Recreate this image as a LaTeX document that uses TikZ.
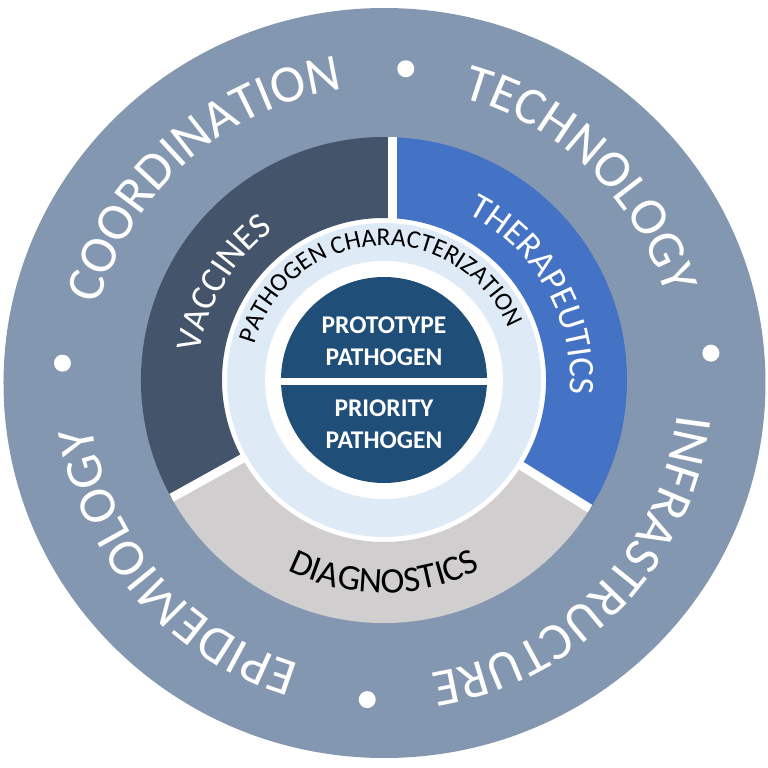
\documentclass[tikz,border=0pt]{standalone}
\usepackage{fontspec}
\setmainfont{Carlito}
\usepackage{xcolor}
\usetikzlibrary{decorations.text}

\definecolor{ringgrey}{HTML}{8497B0}
\definecolor{vacslate}{HTML}{44546A}
\definecolor{therblue}{HTML}{4472C4}
\definecolor{diaggrey}{HTML}{D0CECE}
\definecolor{charblue}{HTML}{DEEBF7}
\definecolor{coreblue}{HTML}{1F4E79}

\newcommand{\outerfont}{\fontsize{30}{36}\selectfont\color{white}}
\newcommand{\segfont}{\fontsize{20.5}{24}\selectfont}
\newcommand{\charfont}{\fontsize{14.5}{17}\selectfont}

\begin{document}
\begin{tikzpicture}[x=0.02cm, y=0.02cm, line width=1.0pt,
  ringlabel/.style 2 args={decorate,
    decoration={text along path, text align=center, text={|#1|#2}}},
  corelabel/.style={text=white, align=center, inner sep=0pt,
    font=\fontsize{14.5}{18}\selectfont\bfseries},
  gapline/.style={white, line width=5pt}]

  \useasboundingbox (-384,-388) rectangle (384,380);

  % -- outer ring ----------------------------------------------------------
  \fill[ringgrey] (0.5,-3) ellipse [x radius=381, y radius=375];
  \foreach \ang/\rad in {86/312, 4.7/328, 267/320, 177/322}
    \fill[white] (\ang:\rad) circle (8.5);

  \begin{scope}[shift={(0,-2)}]
    \path[ringlabel={\outerfont}{COORDINATION}]
      (181.4:295) arc[start angle=181.4, end angle=81.4, radius=295];
    \path[ringlabel={\outerfont}{TECHNOLOGY}]
      (95.9:295) arc[start angle=95.9, end angle=-4.1, radius=295];
    \path[ringlabel={\outerfont}{INFRASTRUCTURE}]
      (16.3:295) arc[start angle=16.3, end angle=-103.7, radius=295];
    \path[ringlabel={\outerfont}{EPIDEMIOLOGY}]
      (271:295) arc[start angle=271, end angle=171, radius=295];
  \end{scope}

  % -- three segments ------------------------------------------------------
  \fill[white] (0,0) circle (163);
  \fill[vacslate] (87:162) arc[start angle=87, end angle=209, radius=162]
    -- (209:243) arc[start angle=209, end angle=88, radius=243] -- cycle;
  \fill[therblue] (-32:162) arc[start angle=-32, end angle=87, radius=162]
    -- (88:243) arc[start angle=88, end angle=-32, radius=243] -- cycle;
  \fill[diaggrey] (209:162) arc[start angle=209, end angle=328, radius=162]
    -- (328:243) arc[start angle=328, end angle=209, radius=243] -- cycle;
  \draw[gapline] (8.5,155) -- (8.5,242.8);
  \draw[gapline] (209:155) -- (209:242.8);
  \draw[gapline] (328:155) -- (328:242.8);

  \path[ringlabel={\segfont\color{white}}{VACCINES}]
    (209:186) arc[start angle=209, end angle=89, radius=186];
  \path[ringlabel={\segfont\color{white}}{THERAPEUTICS}]
    (90:186) arc[start angle=90, end angle=-31, radius=186];
  \path[ringlabel={\segfont\color{black}}{DIAGNOSTICS}]
    (210:213) arc[start angle=210, end angle=330, radius=213];

  % -- pathogen characterization ring -------------------------------------
  \fill[charblue] (0,0) circle (157);
  \fill[white] (0,0) circle (119);
  \path[ringlabel={\charfont\color{black}}{PATHOGEN CHARACTERIZATION}]
    (183.5:134.5) arc[start angle=183.5, end angle=3.5, radius=134.5];

  % -- core -----------------------------------------------------------------
  \fill[coreblue] (0,0) circle (103);
  \draw[white, line width=4pt] (-110,-1.5) -- (110,-1.5);
  \node[corelabel] (prototype) at (0,39) {PROTOTYPE\\PATHOGEN};
  \node[corelabel] (priority) at (0,-44.5) {PRIORITY\\PATHOGEN};

\end{tikzpicture}
\end{document}
